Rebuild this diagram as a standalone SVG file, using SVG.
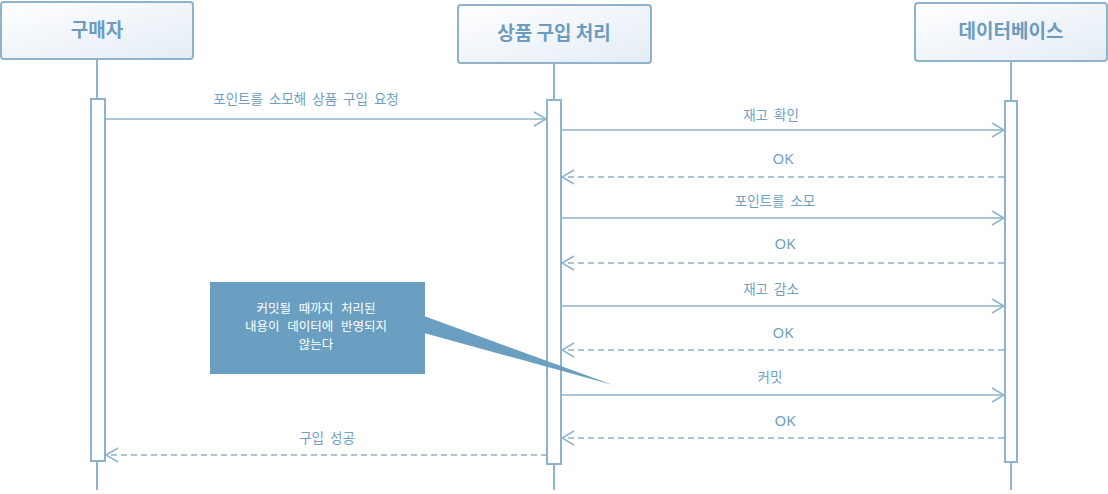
<svg xmlns="http://www.w3.org/2000/svg" width="1108" height="494" viewBox="0 0 1108 494">
<defs>
<linearGradient id="hg" x1="0" y1="0" x2="1" y2="1">
<stop offset="0" stop-color="#ffffff"/>
<stop offset="1" stop-color="#e3ecf5"/>
</linearGradient>
<marker id="ah" markerWidth="14" markerHeight="16" refX="13" refY="8" orient="auto" markerUnits="userSpaceOnUse">
<path d="M1,1 L13,8 L1,15" fill="none" stroke="#8fb3cc" stroke-width="1.5"/>
</marker>
</defs>
<style>
.hdr{fill:url(#hg);stroke:#8fb3cc;stroke-width:2}
.ht{font-family:"Noto Sans CJK KR","Noto Sans",sans-serif;font-weight:bold;font-size:19px;fill:#6b9cc0;text-anchor:middle}
.life{stroke:#8fb3cc;stroke-width:2;fill:none}
.act{fill:#ffffff;stroke:#8fb3cc;stroke-width:2}
.msg{stroke:#8fb3cc;stroke-width:1.5;fill:none;marker-end:url(#ah)}
.ret{stroke:#8fb3cc;stroke-width:1.5;fill:none;stroke-dasharray:6 4;marker-end:url(#ah)}
.lbl{font-family:"Noto Sans CJK KR","Noto Sans",sans-serif;font-size:13.5px;word-spacing:3px;fill:#6f9fc4;text-anchor:middle}
.ok{font-family:"Noto Sans","Noto Sans CJK KR",sans-serif;font-size:15px;fill:#6f9fc4;text-anchor:middle}
.nt{font-family:"Noto Sans CJK KR","Noto Sans",sans-serif;font-size:12.5px;word-spacing:5px;fill:#ffffff;text-anchor:middle}
</style>
<g id="buyer">
<line class="life" x1="97" y1="59" x2="97" y2="490"/>
<rect class="hdr" x="1" y="2" width="192" height="57" rx="3"/>
<text class="ht" x="97" y="37">구매자</text>
<rect class="act" x="91" y="99" width="14" height="362"/>
</g>
<g id="purchase">
<line class="life" x1="554" y1="63" x2="554" y2="490"/>
<rect class="hdr" x="458" y="5" width="193" height="58" rx="3"/>
<text class="ht" x="554" y="40">상품 구입 처리</text>
<rect class="act" x="547" y="100" width="14" height="364"/>
</g>
<g id="database">
<line class="life" x1="1011" y1="61" x2="1011" y2="490"/>
<rect class="hdr" x="915" y="3" width="192" height="58" rx="3"/>
<text class="ht" x="1011" y="38">데이터베이스</text>
<rect class="act" x="1005" y="101" width="12" height="361"/>
</g>
<g id="note">
<path d="M424,316 L613,385 L424,333 Z" fill="#6a9fc2"/>
<rect x="210" y="282" width="215" height="92" fill="#6a9fc2"/>
<text class="nt" x="316" y="313">커밋될 때까지 처리된</text>
<text class="nt" x="316" y="331">내용이 데이터에 반영되지</text>
<text class="nt" x="316" y="349">않는다</text>
</g>
<g id="connectors">
<line class="msg" x1="105" y1="119" x2="546" y2="119"/>
<text class="lbl" x="306" y="104">포인트를 소모해 상품 구입 요청</text>
<line class="msg" x1="561" y1="130" x2="1004" y2="130"/>
<text class="lbl" x="771" y="120">재고 확인</text>
<line class="ret" x1="1004" y1="177" x2="562" y2="177"/>
<text class="ok" x="783" y="164">OK</text>
<line class="msg" x1="561" y1="218" x2="1004" y2="218"/>
<text class="lbl" x="775" y="206">포인트를 소모</text>
<line class="ret" x1="1004" y1="263" x2="562" y2="263"/>
<text class="ok" x="785" y="249">OK</text>
<line class="msg" x1="561" y1="306" x2="1004" y2="306"/>
<text class="lbl" x="771" y="294">재고 감소</text>
<line class="ret" x1="1004" y1="350" x2="562" y2="350"/>
<text class="ok" x="783" y="338">OK</text>
<line class="msg" x1="561" y1="395" x2="1004" y2="395"/>
<text class="lbl" x="770" y="382">커밋</text>
<line class="ret" x1="1004" y1="438" x2="562" y2="438"/>
<text class="ok" x="785" y="426">OK</text>
<line class="ret" x1="547" y1="455" x2="106" y2="455"/>
<text class="lbl" x="327" y="443">구입 성공</text>
</g>
</svg>
